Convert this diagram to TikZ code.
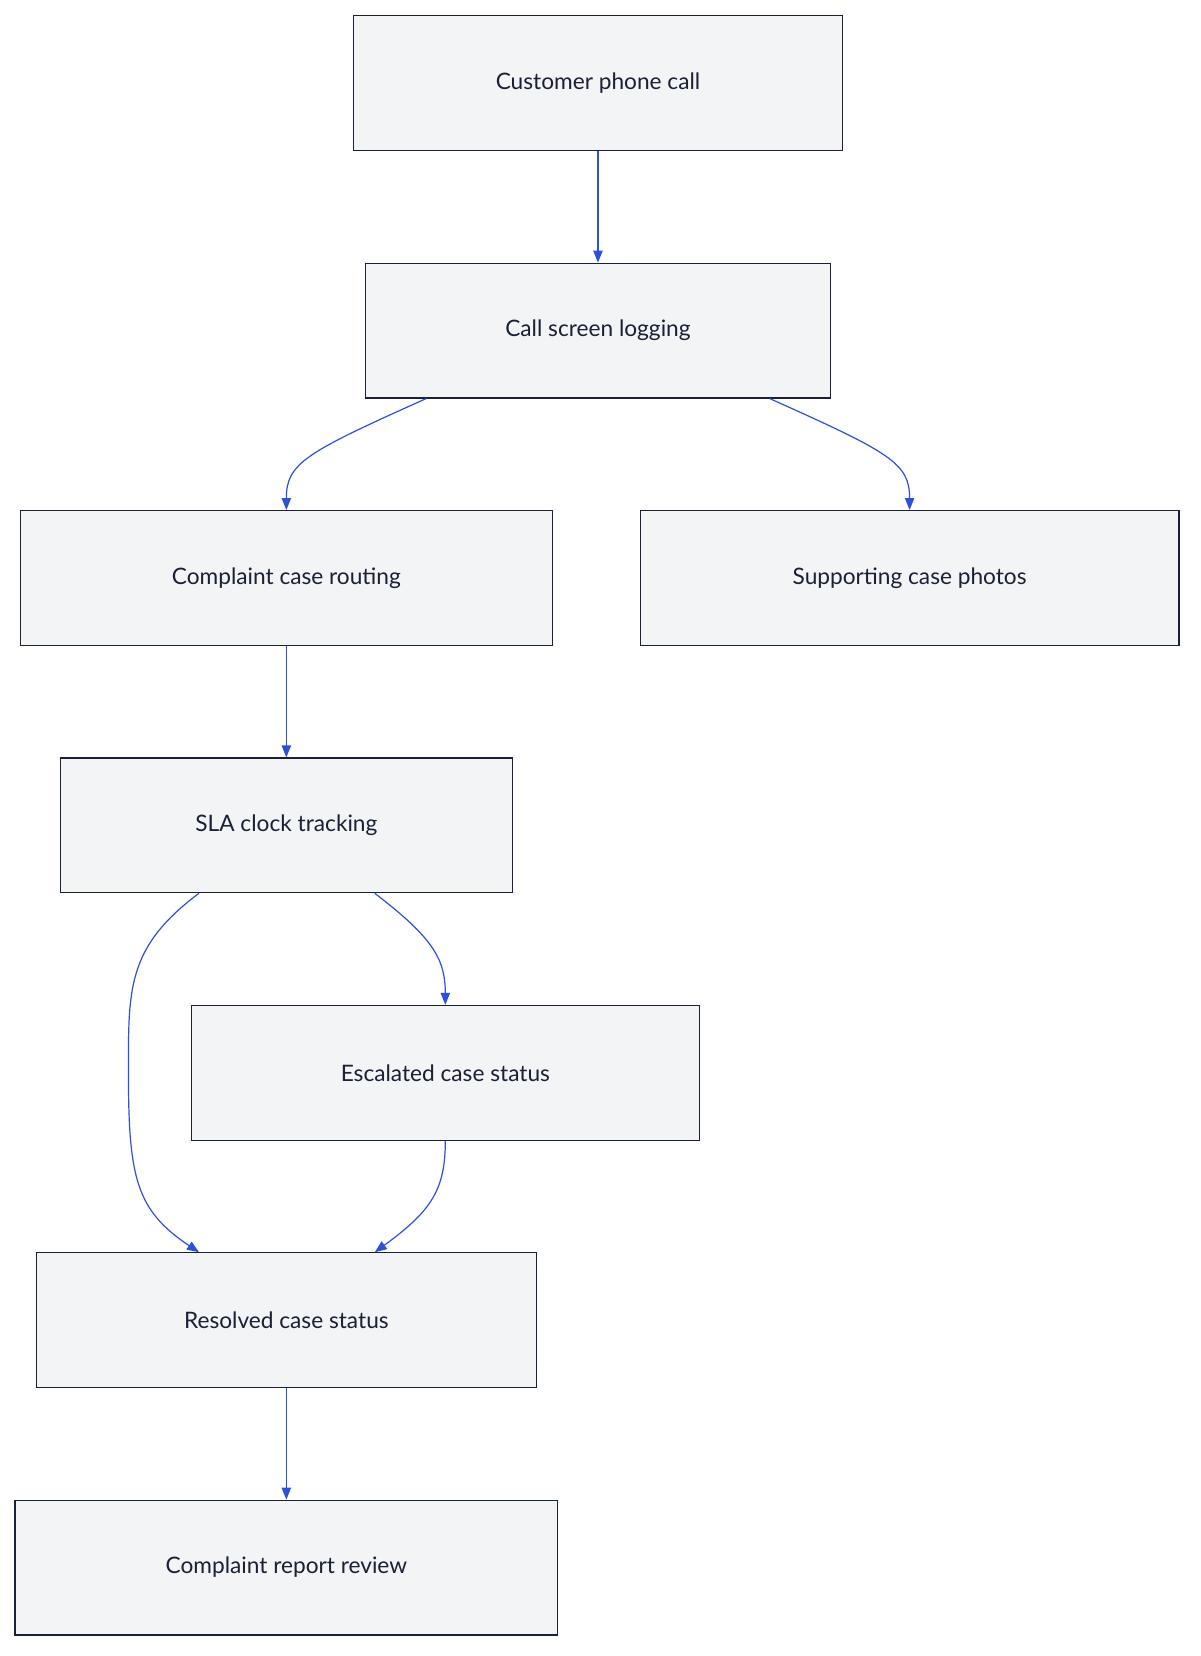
\documentclass[tikz,border=0pt]{standalone}
\usepackage{fontspec}
\setmainfont{Lato}
\usetikzlibrary{arrows.meta,calc}
\definecolor{boxfill}{HTML}{F3F4F6}
\definecolor{boxline}{HTML}{1A2035}
\definecolor{flowblue}{HTML}{2B50DA}
\begin{document}
\begin{tikzpicture}[
    x=0.7895pt, y=-0.7895pt,
    stage/.style={rectangle, draw=boxline, fill=boxfill, line width=0.9pt,
                  minimum height=101pt, inner sep=0pt,
                  font=\fontsize{17}{20}\selectfont, text=boxline},
    flow/.style={-{Triangle[length=9pt,width=7pt]}, flowblue, line width=0.9pt},
]
\useasboundingbox (0,0) rectangle (1140,1573);

% Stages
\node[stage, minimum width=367pt] (call) at (568,79) {Customer phone call};
\node[stage, minimum width=349pt] (log) at (568,314) {Call screen logging};
\node[stage, minimum width=399pt] (route) at (272,549) {Complaint case routing};
\node[stage, minimum width=404pt] (photo) at (864,549) {Supporting case photos};
\node[stage, minimum width=339pt] (sla) at (272,784) {SLA clock tracking};
\node[stage, minimum width=381pt] (esc) at (423,1019) {Escalated case status};
\node[stage, minimum width=375pt] (res) at (272,1254) {Resolved case status};
\node[stage, minimum width=407pt] (rev) at (272,1489) {Complaint report review};

% Connectors
\draw[flow] (call) -- (log);
\draw[flow] ($(log.south)+(-163,0)$) .. controls (290,430) and (272,440) .. (route.north);
\draw[flow] ($(log.south)+(163,0)$) .. controls (846,430) and (864,440) .. (photo.north);
\draw[flow] (route) -- (sla);
\draw[flow] ($(sla.south)+(84,0)$) .. controls (410,890) and (423,910) .. (esc.north);
\draw[flow] ($(sla.south)+(-83,0)$) .. controls (120,900) and (122,940) .. (122,1020)
    .. controls (122,1120) and (130,1150) .. ($(res.north)+(-83,0)$);
\draw[flow] (esc.south) .. controls (423,1130) and (410,1150) .. ($(res.north)+(84,0)$);
\draw[flow] (res) -- (rev);
\end{tikzpicture}
\end{document}
